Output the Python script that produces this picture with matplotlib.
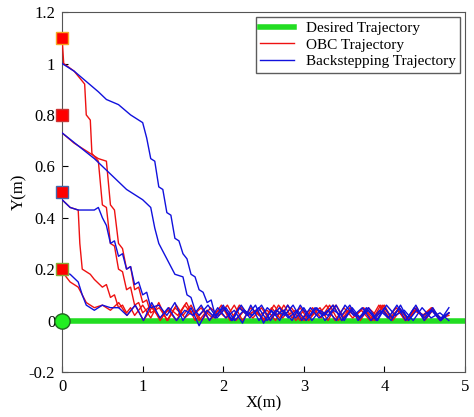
import numpy as np
import matplotlib.pyplot as plt

plt.rcParams['font.family'] = ['Liberation Serif', 'DejaVu Serif']
plt.rcParams['font.size'] = 12

# Descending (head) parts of each trajectory: x, y
blue_heads = [
    ([0, 0.15, 0.3, 0.45, 0.55, 0.7, 0.85, 1.0, 1.05, 1.1, 1.15, 1.2, 1.25, 1.3, 1.35, 1.4, 1.45, 1.5, 1.55, 1.6, 1.65, 1.7, 1.75, 1.8, 1.85, 1.9],
     [1.0, 0.97, 0.93, 0.89, 0.86, 0.84, 0.80, 0.77, 0.71, 0.63, 0.62, 0.52, 0.51, 0.42, 0.41, 0.32, 0.31, 0.26, 0.24, 0.18, 0.17, 0.12, 0.11, 0.07, 0.08, 0.02]),
    ([0, 0.2, 0.4, 0.6, 0.8, 1.0, 1.1, 1.15, 1.2, 1.3, 1.4, 1.5, 1.55, 1.6, 1.65, 1.7],
     [0.73, 0.68, 0.63, 0.57, 0.51, 0.47, 0.44, 0.36, 0.30, 0.24, 0.18, 0.17, 0.10, 0.09, 0.04, 0.02]),
    ([0, 0.1, 0.2, 0.3, 0.4, 0.45, 0.5, 0.55, 0.6, 0.65, 0.7, 0.75, 0.8, 0.85, 0.9, 0.95, 1.0, 1.05, 1.1],
     [0.47, 0.44, 0.43, 0.43, 0.43, 0.44, 0.40, 0.37, 0.30, 0.31, 0.25, 0.26, 0.20, 0.21, 0.14, 0.15, 0.10, 0.11, 0.05]),
    ([0, 0.1, 0.2, 0.25, 0.3, 0.35, 0.4, 0.5, 0.6],
     [0.19, 0.18, 0.15, 0.10, 0.06, 0.05, 0.04, 0.06, 0.05]),
]
red_heads = [
    ([0, 0.02, 0.15, 0.28, 0.3, 0.35, 0.37, 0.45, 0.5, 0.55, 0.6, 0.65, 0.7, 0.75, 0.8, 0.85, 0.9, 0.95, 1.0],
     [1.1, 1.0, 0.97, 0.92, 0.80, 0.78, 0.65, 0.62, 0.45, 0.44, 0.30, 0.29, 0.20, 0.19, 0.12, 0.13, 0.06, 0.07, 0.03]),
    ([0, 0.15, 0.3, 0.45, 0.55, 0.6, 0.65, 0.7, 0.75, 0.8, 0.85, 0.9, 0.95, 1.0, 1.05, 1.1],
     [0.73, 0.69, 0.66, 0.63, 0.62, 0.45, 0.43, 0.30, 0.28, 0.20, 0.21, 0.12, 0.13, 0.07, 0.08, 0.03]),
    ([0, 0.1, 0.2, 0.22, 0.25, 0.35, 0.4, 0.5, 0.55, 0.6, 0.65, 0.7, 0.75, 0.8, 0.85, 0.9],
     [0.47, 0.44, 0.43, 0.30, 0.20, 0.18, 0.16, 0.13, 0.14, 0.09, 0.10, 0.05, 0.06, 0.03, 0.05, 0.02]),
    ([0, 0.05, 0.1, 0.2, 0.25, 0.3, 0.4, 0.5, 0.6],
     [0.2, 0.17, 0.15, 0.13, 0.10, 0.07, 0.05, 0.06, 0.04]),
]
# Noisy tails near zero (y values), x runs from end of head to 4.8
blue_tails = [
    [0.05, 0.0, 0.06, 0.01, 0.05, 0.0, 0.04, 0.02, 0.06, 0.0, 0.05, 0.01, 0.04, 0.0, 0.06, 0.02, 0.05, 0.0, 0.04, 0.01, 0.06, 0.0, 0.05, 0.02, 0.04, 0.0, 0.05],
    [0.06, 0.01, 0.05, 0.0, 0.04, 0.02, 0.06, 0.0, 0.05, 0.01, 0.04, 0.0, 0.05, 0.02, 0.06, 0.0, 0.04, 0.01, 0.05, 0.0, 0.06, 0.02, 0.04, 0.0, 0.05, 0.01, 0.03, 0.0],
    [0.06, 0.02, 0.07, 0.0, 0.05, -0.02, 0.04, 0.01, 0.06, 0.0, 0.05, 0.02, 0.06, -0.01, 0.04, 0.0, 0.06, 0.01, 0.05, 0.0, 0.04, 0.02, 0.06, 0.0, 0.05, 0.01, 0.04, 0.0, 0.05, 0.01, 0.06, 0.0, 0.04, 0.01, 0.05, 0.0, 0.03],
    [0.05, 0.02, 0.06, 0.0, 0.07, 0.01, 0.05, 0.0, 0.04, 0.02, 0.06, 0.0, 0.05, 0.01, 0.04, -0.01, 0.06, 0.0, 0.05, 0.02, 0.04, 0.0, 0.06, 0.01, 0.05, 0.0, 0.04, 0.02, 0.06, 0.0, 0.05, 0.01, 0.04, 0.0, 0.05, 0.01, 0.06, 0.0, 0.04, 0.01, 0.03],
]
red_tails = [
    [0.06, 0.0, 0.05, 0.02, 0.07, 0.0, 0.04, 0.01, 0.06, 0.0, 0.05, 0.02, 0.04, 0.0, 0.06, 0.01, 0.05, 0.0, 0.04, 0.02, 0.06, 0.0, 0.05, 0.01, 0.04, 0.0, 0.06, 0.01, 0.05, 0.0, 0.04, 0.02, 0.05, 0.0, 0.03],
    [0.05, 0.0, 0.06, 0.01, 0.04, 0.0, 0.05, 0.02, 0.06, 0.0, 0.04, 0.01, 0.05, 0.0, 0.06, 0.02, 0.04, 0.0, 0.05, 0.01, 0.06, 0.0, 0.04, 0.02, 0.05, 0.0, 0.06, 0.01, 0.04, 0.0, 0.05, 0.01, 0.04, 0.0, 0.03],
    [0.06, 0.01, 0.07, 0.0, 0.05, 0.02, 0.06, 0.0, 0.04, 0.01, 0.05, 0.0, 0.06, 0.02, 0.04, 0.0, 0.05, 0.01, 0.06, 0.0, 0.04, 0.02, 0.05, 0.0, 0.06, 0.01, 0.04, 0.0, 0.05, 0.02, 0.06, 0.0, 0.04, 0.01, 0.05, 0.0, 0.04, 0.01, 0.02],
    [0.07, 0.02, 0.06, 0.0, 0.05, 0.01, 0.04, 0.0, 0.06, 0.02, 0.05, 0.0, 0.04, 0.01, 0.06, 0.0, 0.05, 0.02, 0.04, 0.0, 0.06, 0.01, 0.05, 0.0, 0.04, 0.02, 0.06, 0.0, 0.05, 0.01, 0.04, 0.0, 0.06, 0.01, 0.05, 0.0, 0.04, 0.02, 0.05, 0.0, 0.03],
]
start_y = [1.1, 0.8, 0.5, 0.2]
start_edges = ['#f5a623', '#cc3333', '#4466aa', '#88aa33']
x_end = 4.8

fig = plt.figure(figsize=(4.74, 4.17), dpi=100)
ax = fig.add_axes([0.131, 0.108, 0.85, 0.863])

ax.plot([0, 5], [0, 0], color='#22dd22', lw=4, label='Desired Trajectory', zorder=2)

def draw(heads, tails, color, label):
    for i, ((hx, hy), ty) in enumerate(zip(heads, tails)):
        tx = np.linspace(hx[-1], x_end, len(ty) + 1)[1:]
        ax.plot(list(hx) + list(tx), list(hy) + list(ty), color=color, lw=1,
                label=label if i == 0 else None, zorder=3)

draw(red_heads, red_tails, '#ee1111', 'OBC Trajectory')
draw(blue_heads, blue_tails, '#1111dd', 'Backstepping Trajectory')

for y, ec in zip(start_y, start_edges):
    ax.plot(0, y, 's', ms=8, mfc='#ff0000', mec=ec, mew=1, zorder=5, clip_on=False)
ax.plot(0, 0, 'o', ms=11, mfc='#22ee22', mec='#226622', mew=1, zorder=5, clip_on=False)

ax.set_xlim(0, 5)
ax.set_ylim(-0.2, 1.2)
ax.set_xticks([0, 1, 2, 3, 4, 5])
ax.set_yticks([-0.2, 0, 0.2, 0.4, 0.6, 0.8, 1.0, 1.2])
ax.set_yticklabels(['-0.2', '0', '0.2', '0.4', '0.6', '0.8', '1', '1.2'])
ax.set_xlabel('X(m)', labelpad=0)
ax.set_ylabel('Y(m)', labelpad=1)
ax.tick_params(direction='in', length=4, pad=5)
for s in ax.spines.values():
    s.set_color('#555555')
ax.legend(loc='upper right', fontsize=11, frameon=True, fancybox=False,
          edgecolor='#333333', borderpad=0.3, labelspacing=0.2, handlelength=2.2,
          borderaxespad=0.3)

fig.savefig('out.png', dpi=100)
